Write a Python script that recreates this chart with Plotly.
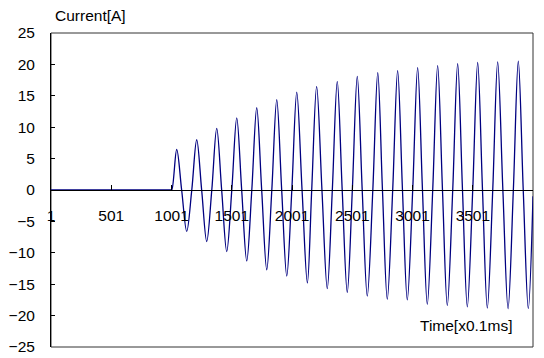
import plotly.graph_objects as go

# Waveform vertices (sample index, current in A)
flat_t = [1, 995]
flat_v = [0, 0]
rise_t = [1003, 1169, 1335, 1501, 1667, 1833, 1999, 2164, 2335, 2501, 2671, 2836, 3002, 3168, 3334, 3500, 3666, 3837]
peak_t = [1044, 1210, 1376, 1542, 1708, 1874, 2040, 2205, 2376, 2542, 2712, 2877, 3043, 3209, 3375, 3541, 3707, 3878]
peak_v = [6.45, 8.0, 9.8, 11.5, 13.1, 14.4, 15.6, 16.5, 17.3, 18.1, 18.7, 19.0, 19.5, 19.8, 20.1, 20.3, 20.4, 20.5]
fall_t = [1085, 1251, 1417, 1583, 1749, 1915, 2084, 2249, 2417, 2583, 2751, 2917, 3083, 3249, 3415, 3581, 3750, 3919]
trough_t = [1127, 1293, 1459, 1625, 1791, 1957, 2128, 2293, 2459, 2625, 2791, 2957, 3123, 3289, 3455, 3621, 3793, 3961]
trough_v = [-6.6, -8.2, -9.8, -11.3, -12.7, -13.7, -14.8, -15.7, -16.3, -16.9, -17.4, -17.5, -18.2, -18.4, -18.6, -18.8, -18.9, -18.9]
end_t = [4000]
end_v = [-1.0]

x_tick_vals = [1, 501, 1001, 1501, 2001, 2501, 3001, 3501]
x_tick_text = ["1", "501", "1001", "1501", "2001", "2501", "3001", "3501"]
y_tick_vals = [25, 20, 15, 10, 5, 0, -5, -10, -15, -20, -25]

pts = list(zip(flat_t, flat_v))
pts += [(t, 0) for t in rise_t]
pts += list(zip(peak_t, peak_v))
pts += [(t, 0) for t in fall_t]
pts += list(zip(trough_t, trough_v))
pts += list(zip(end_t, end_v))
pts.sort(key=lambda p: p[0])
xs = [p[0] for p in pts]
ys = [p[1] for p in pts]

font = dict(family="Liberation Sans, Arial, sans-serif", size=15.5, color="black")

fig = go.Figure()
fig.add_trace(go.Scatter(
    x=xs, y=ys, mode="lines",
    line=dict(color="#000080", width=1.3, shape="spline", smoothing=1.0),
    hoverinfo="skip", showlegend=False,
))

# the page body has an 8px margin, so the figure is 8px smaller and margins shifted
fig.update_layout(
    width=536, height=350,
    margin=dict(l=43, r=11, t=25, b=11, autoexpand=False),
    paper_bgcolor="white", plot_bgcolor="white",
    font=font,
    xaxis=dict(
        range=[1, 4000], anchor="free", position=0.5, automargin=False,
        showline=True, linecolor="black", linewidth=1,
        showgrid=False, zeroline=False,
        tickmode="array", tickvals=x_tick_vals, ticktext=x_tick_text,
        ticks="inside", ticklen=5, tickcolor="black",
        ticklabelstandoff=11, tickfont=font,
    ),
    yaxis=dict(
        range=[-25, 25], domain=[0, 1], automargin=False,
        showline=True, linecolor="black", linewidth=1,
        showgrid=False, zeroline=False,
        tickmode="array", tickvals=y_tick_vals,
        ticks="inside", ticklen=4, tickcolor="black",
        ticklabelstandoff=12, tickfont=font,
    ),
    shapes=[dict(type="rect", xref="x domain", yref="y domain",
                 x0=0, x1=1, y0=0, y1=1,
                 line=dict(color="#333333", width=1), layer="below")],
    annotations=[
        dict(text="Current[A]", xref="paper", yref="paper", x=0.004, y=1.057,
             xanchor="left", yanchor="middle", showarrow=False, font=font),
        dict(text="Time[x0.1ms]", xref="paper", yref="paper", x=0.9606, y=0.067,
             xanchor="right", yanchor="middle", showarrow=False, font=font),
    ],
)

fig.write_html("out.html")
